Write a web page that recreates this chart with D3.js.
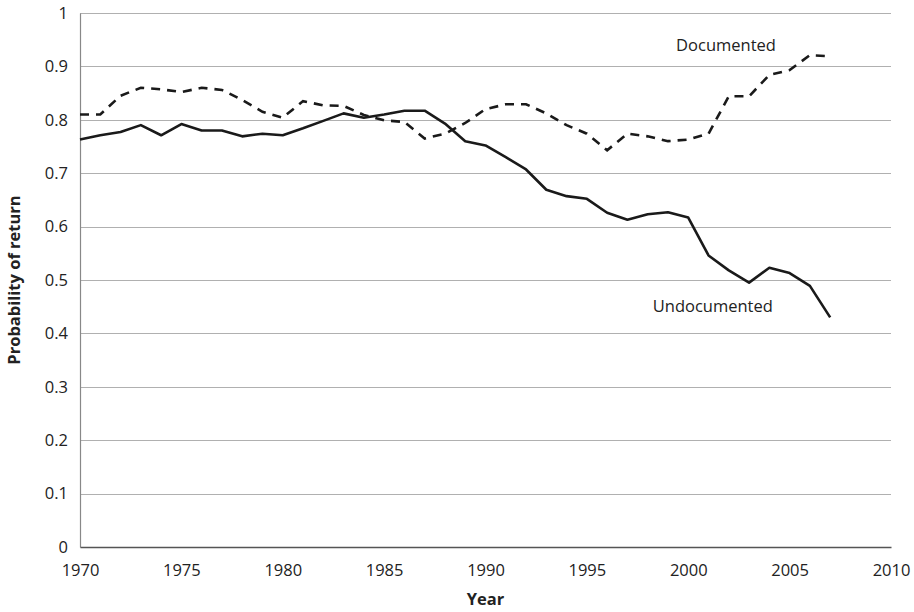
<!DOCTYPE html>
<html>
<head>
<meta charset="utf-8">
<script src="https://cdn.jsdelivr.net/npm/d3@7"></script>
<style>
  body { margin: 0; background: #fff; }
  text { font-family: "Open Sans", "Liberation Sans", sans-serif; fill: #222; }
</style>
</head>
<body>
<script>
// years 1970..2007
var years = [1970,1971,1972,1973,1974,1975,1976,1977,1978,1979,
             1980,1981,1982,1983,1984,1985,1986,1987,1988,1989,
             1990,1991,1992,1993,1994,1995,1996,1997,1998,1999,
             2000,2001,2002,2003,2004,2005,2006,2007];

var undocumented = [0.763,0.771,0.777,0.790,0.771,0.792,0.780,0.780,0.769,0.774,
                    0.771,0.784,0.798,0.812,0.804,0.810,0.817,0.817,0.793,0.760,
                    0.752,0.730,0.707,0.669,0.657,0.652,0.626,0.613,0.623,0.627,
                    0.617,0.546,0.518,0.495,0.523,0.513,0.489,0.430];

var documented = [0.810,0.810,0.845,0.860,0.857,0.852,0.860,0.856,0.837,0.815,
                  0.804,0.835,0.827,0.826,0.809,0.799,0.796,0.765,0.774,0.794,
                  0.820,0.829,0.829,0.812,0.790,0.774,0.743,0.774,0.769,0.760,
                  0.763,0.774,0.844,0.844,0.884,0.893,0.921,0.919];

var xTicks = [1970,1975,1980,1985,1990,1995,2000,2005,2010];
var yTicks = [0,0.1,0.2,0.3,0.4,0.5,0.6,0.7,0.8,0.9,1];

var W = 914, H = 612;
var margin = {top: 13, right: 23, bottom: 65, left: 80};
var width = W - margin.left - margin.right;
var height = H - margin.top - margin.bottom;
var fs = "16.5px";

var svg = d3.select("body").append("svg")
    .attr("width", W)
    .attr("height", H);

var g = svg.append("g")
    .attr("transform", "translate(" + margin.left + "," + margin.top + ")");

var x = d3.scaleLinear().domain([1970, 2010]).range([0, width]);
var y = d3.scaleLinear().domain([0, 1]).range([height, 0]);

// gridlines
g.append("g")
    .selectAll("line")
    .data(yTicks.filter(function(d){ return d > 0; }))
    .enter().append("line")
    .attr("x1", 0).attr("x2", width)
    .attr("y1", function(d){ return Math.round(y(d)) + 0.5; })
    .attr("y2", function(d){ return Math.round(y(d)) + 0.5; })
    .attr("stroke", "#b0b0b0")
    .attr("stroke-width", 1);

// y axis
var yAxis = g.append("g")
    .call(d3.axisLeft(y).tickValues(yTicks).tickSize(0).tickPadding(12)
        .tickFormat(function(d){ return d === 0 ? "0" : d === 1 ? "1" : d3.format(".1f")(d); }));
yAxis.select(".domain").attr("stroke", "#888").attr("stroke-width", 1.2);
yAxis.selectAll("text").style("font-size", fs).attr("fill", "#222");

// x axis
var xAxis = g.append("g")
    .attr("transform", "translate(0," + height + ")")
    .call(d3.axisBottom(x).tickValues(xTicks).tickSize(0).tickPadding(17)
        .tickFormat(d3.format("d")));
xAxis.select(".domain").attr("stroke", "#555").attr("stroke-width", 1.3);
xAxis.selectAll("text").style("font-size", fs).attr("fill", "#222");

var line = d3.line()
    .x(function(d, i){ return x(years[i]); })
    .y(function(d){ return y(d); });

g.append("path")
    .datum(documented)
    .attr("fill", "none")
    .attr("stroke", "#1a1a1a")
    .attr("stroke-width", 2.6)
    .attr("stroke-dasharray", "9,7")
    .attr("d", line);

g.append("path")
    .datum(undocumented)
    .attr("fill", "none")
    .attr("stroke", "#1a1a1a")
    .attr("stroke-width", 2.6)
    .attr("stroke-linejoin", "round")
    .attr("d", line);

// series labels
g.append("text")
    .attr("x", x(1999.4))
    .attr("y", y(0.928))
    .style("font-size", fs)
    .text("Documented");

g.append("text")
    .attr("x", x(1998.25))
    .attr("y", y(0.44))
    .style("font-size", fs)
    .text("Undocumented");

// axis titles
svg.append("text")
    .attr("x", margin.left + width / 2)
    .attr("y", 605)
    .attr("text-anchor", "middle")
    .style("font-size", fs)
    .style("font-weight", "bold")
    .text("Year");

svg.append("text")
    .attr("transform", "translate(20," + (margin.top + height / 2) + ") rotate(-90)")
    .attr("text-anchor", "middle")
    .style("font-size", fs)
    .style("font-weight", "bold")
    .text("Probability of return");
</script>
</body>
</html>
